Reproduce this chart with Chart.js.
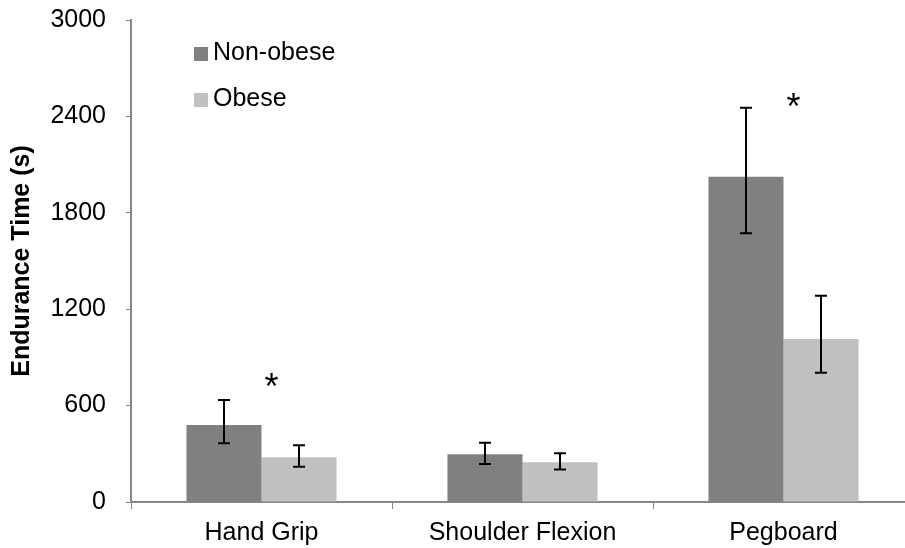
<!DOCTYPE html>
<html>
<head>
<meta charset="utf-8">
<script src="https://cdn.jsdelivr.net/npm/chart.js@4.4.1/dist/chart.umd.min.js"></script>
<style>
  html, body { margin: 0; padding: 0; background: #fff; overflow: hidden; }
  #wrap { width: 920px; height: 548px; }
</style>
</head>
<body>
<div id="wrap"><canvas id="c" width="920" height="548"></canvas></div>
<script>
const categories = ["Hand Grip", "Shoulder Flexion", "Pegboard"];
const seriesNames = ["Non-obese", "Obese"];
const nonObese = [479, 297, 2024];
const obese = [278, 247, 1014];
const nonObeseErrHigh = [635, 369, 2454];
const nonObeseErrLow = [365, 236, 1672];
const obeseErrHigh = [353, 303, 1284];
const obeseErrLow = [220, 203, 805];
const significanceY = [750, null, 2495];
const yTicks = [0, 600, 1200, 1800, 2400, 3000];

const FONT = "'Liberation Sans', Arial, sans-serif";

const errorBarPlugin = {
  id: 'errorBars',
  afterDatasetsDraw(chart) {
    const ctx = chart.ctx;
    const y = chart.scales.y;
    const highs = [nonObeseErrHigh, obeseErrHigh];
    const lows = [nonObeseErrLow, obeseErrLow];
    ctx.save();
    ctx.strokeStyle = '#000';
    ctx.lineWidth = 2;
    chart.data.datasets.forEach((ds, di) => {
      const meta = chart.getDatasetMeta(di);
      meta.data.forEach((bar, i) => {
        const x = Math.round(bar.x);
        const yh = y.getPixelForValue(highs[di][i]);
        const yl = y.getPixelForValue(lows[di][i]);
        ctx.beginPath();
        ctx.moveTo(x, yh); ctx.lineTo(x, yl);
        ctx.moveTo(x - 6, yh); ctx.lineTo(x + 6, yh);
        ctx.moveTo(x - 6, yl); ctx.lineTo(x + 6, yl);
        ctx.stroke();
      });
    });
    ctx.restore();
  }
};

const annotPlugin = {
  id: 'annot',
  afterDraw(chart) {
    const ctx = chart.ctx;
    const xs = chart.scales.x, ys = chart.scales.y;
    const area = chart.chartArea;
    ctx.save();
    // significance asterisks
    ctx.fillStyle = '#000';
    ctx.font = "36px " + FONT;
    ctx.textAlign = 'center';
    ctx.textBaseline = 'middle';
    significanceY.forEach((v, i) => {
      if (v === null) return;
      const x = xs.getPixelForValue(i) + 10;
      const yy = ys.getPixelForValue(v);
      ctx.fillText('*', x, yy + 8);
    });
    // legend
    const colors = chart.data.datasets.map(d => d.backgroundColor);
    ctx.font = "25px " + FONT;
    ctx.textAlign = 'left';
    ctx.textBaseline = 'middle';
    seriesNames.forEach((name, i) => {
      const ly = area.top + 34 + i * 46;
      ctx.fillStyle = colors[i];
      ctx.fillRect(area.left + 63, ly - 7, 14, 14);
      ctx.fillStyle = '#000';
      ctx.fillText(name, area.left + 82, ly - 1);
    });
    ctx.restore();
  }
};

new Chart(document.getElementById('c'), {
  type: 'bar',
  data: {
    labels: categories,
    datasets: [
      { label: seriesNames[0], data: nonObese, backgroundColor: '#808080', borderWidth: 0 },
      { label: seriesNames[1], data: obese, backgroundColor: '#C0C0C0', borderWidth: 0 }
    ]
  },
  options: {
    responsive: false,
    animation: false,
    devicePixelRatio: 1,
    layout: { padding: { top: 20, right: 6, left: 0, bottom: 0 } },
    categoryPercentage: 0.575,
    barPercentage: 1.0,
    plugins: { legend: { display: false }, tooltip: { enabled: false } },
    scales: {
      x: {
        grid: { display: true, drawOnChartArea: false, drawTicks: true, tickLength: 7, color: '#868686', offset: true },
        border: { display: true, color: '#868686', width: 2 },
        ticks: { color: '#000', font: { family: FONT, size: 25 }, padding: 9, maxRotation: 0 },
        afterFit(s) { s.height = 46; s.paddingLeft = 0; s.paddingRight = 0; }
      },
      y: {
        min: 0, max: 3000,
        afterBuildTicks(s) { s.ticks = yTicks.map(v => ({ value: v })); },
        grid: { display: true, drawOnChartArea: false, drawTicks: true, tickLength: 5, color: '#868686' },
        border: { display: true, color: '#868686', width: 2 },
        ticks: { color: '#000', font: { family: FONT, size: 25 }, padding: 20, callback: v => String(v) },
        title: { display: true, text: 'Endurance Time (s)', color: '#000', font: { family: FONT, size: 25, weight: 'bold' }, padding: { top: 7, bottom: 0 } },
        afterFit(s) { s.width = 131; s.paddingTop = 0; s.paddingBottom = 0; }
      }
    }
  },
  plugins: [errorBarPlugin, annotPlugin]
});
</script>
</body>
</html>
